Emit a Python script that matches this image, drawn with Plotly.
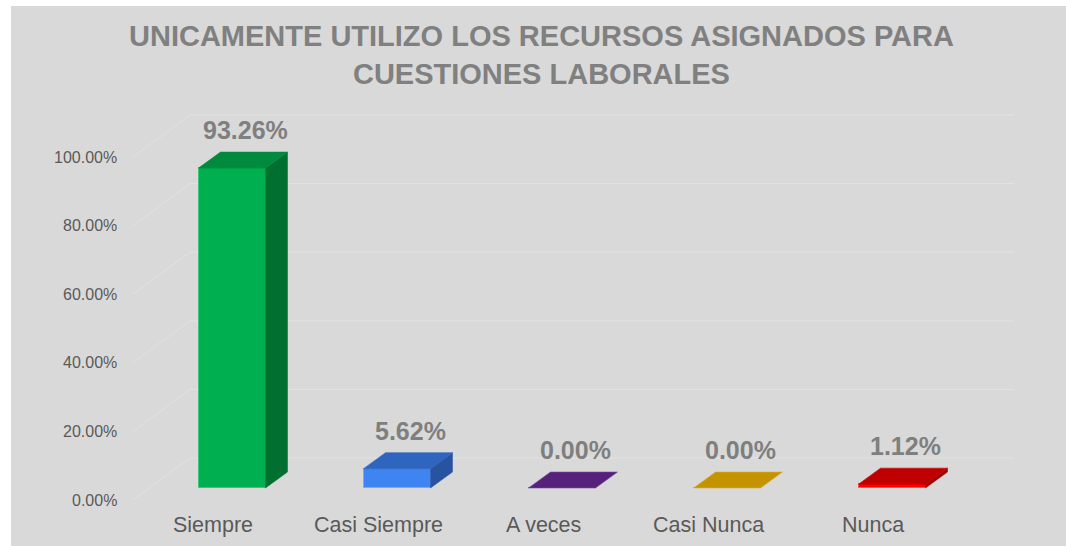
import plotly.graph_objects as go

# ---------------- data ----------------
categories = ["Siempre", "Casi Siempre", "A veces", "Casi Nunca", "Nunca"]
values = [93.26, 5.62, 0.00, 0.00, 1.12]
value_labels = ["93.26%", "5.62%", "0.00%", "0.00%", "1.12%"]
tick_values = [0, 20, 40, 60, 80, 100]
tick_labels = ["0.00%", "20.00%", "40.00%", "60.00%", "80.00%", "100.00%"]
title_text = "UNICAMENTE UTILIZO LOS RECURSOS ASIGNADOS PARA<br>CUESTIONES LABORALES"

# ---------------- style ----------------
front_colors = ["#00b050", "#3f85f2", "#55217a", "#c49400", "#ff0000"]
top_colors = ["#008a3e", "#2e65bf", "#55217a", "#c49400", "#c00000"]
side_colors = ["#006f2f", "#2753a1", "#461b66", "#a37b00", "#a00000"]
edge_colors = ["#3cc777", "#79a9f5", "#7a4aa0", "#dbb040", "#ff5050"]

W, H = 1066, 546
ML, MT = 11, 6
PX_X = 165.0          # pixels per category
PX_Y = 3.43           # pixels per percent
X0_PX = 232.0         # pixel of first category front centre
Y0_PX = 488.0         # pixel of 0% at bar front
BAR_W = 67 / PX_X
DX = 22 / PX_X        # depth offset (x)
DY = 16 / PX_Y        # depth offset (y)
WALL_DY = 30 / PX_Y   # back wall offset
WALL_X0 = (190 - X0_PX) / PX_X
WALL_X1 = (1014 - X0_PX) / PX_X
AXIS_X = (133 - X0_PX) / PX_X
AXIS_DY = -12 / PX_Y
TICK_X = (119 - X0_PX) / PX_X
CAT_DX = -19 / PX_X
CAT_Y = (Y0_PX - 525) / PX_Y
BG = "#d9d9d9"
GRID = "#e2e2e2"

xr = [(ML - X0_PX) / PX_X, (W - X0_PX) / PX_X]
yr = [(Y0_PX - H) / PX_Y, (Y0_PX - MT) / PX_Y]

idx = list(range(len(categories)))

fig = go.Figure()

# front faces
fig.add_trace(go.Bar(
    x=idx, y=values, width=BAR_W,
    marker=dict(color=front_colors, line=dict(color=edge_colors, width=1)),
    hoverinfo="skip", showlegend=False,
))

# top and side faces
for i, v in enumerate(values):
    xl, xr_ = i - BAR_W / 2, i + BAR_W / 2
    if v > 0:
        fig.add_trace(go.Scatter(
            x=[xr_, xr_, xr_ + DX, xr_ + DX, xr_],
            y=[0, v, v + DY, DY, 0],
            fill="toself", fillcolor=side_colors[i], mode="lines",
            line=dict(color=side_colors[i], width=0.5),
            hoverinfo="skip", showlegend=False,
        ))
    fig.add_trace(go.Scatter(
        x=[xl, xr_, xr_ + DX, xl + DX, xl],
        y=[v, v, v + DY, v + DY, v],
        fill="toself", fillcolor=top_colors[i], mode="lines",
        line=dict(color=edge_colors[i] if v == 0 else top_colors[i], width=0.6),
        hoverinfo="skip", showlegend=False,
    ))

# gridlines (walls)
shapes = []
for t in tick_values:
    shapes.append(dict(type="line", xref="x", yref="y", layer="below",
                       x0=WALL_X0, x1=WALL_X1, y0=t + WALL_DY, y1=t + WALL_DY,
                       line=dict(color=GRID, width=1)))
    shapes.append(dict(type="line", xref="x", yref="y", layer="below",
                       x0=AXIS_X, x1=WALL_X0, y0=t + AXIS_DY, y1=t + WALL_DY,
                       line=dict(color=GRID, width=1)))

annotations = []
# tick labels
for t, lab in zip(tick_values, tick_labels):
    annotations.append(dict(x=TICK_X, y=t + AXIS_DY, xref="x", yref="y", text=lab,
                            showarrow=False, xanchor="right", yanchor="middle",
                            font=dict(family="Liberation Sans, Arial", size=16, color="#595959")))
# category labels
for i, c in enumerate(categories):
    annotations.append(dict(x=i + CAT_DX, y=CAT_Y, xref="x", yref="y", text=c,
                            showarrow=False, xanchor="center", yanchor="middle",
                            font=dict(family="Liberation Sans, Arial", size=21.5, color="#595959")))
# value labels
for i, (v, lab) in enumerate(zip(values, value_labels)):
    annotations.append(dict(x=i + 0.08, y=v + DY, xref="x", yref="y", text="<b>" + lab + "</b>",
                            showarrow=False, xanchor="center", yanchor="middle", yshift=22,
                            font=dict(family="Liberation Sans, Arial", size=25, color="#7f7f7f")))
# title
annotations.append(dict(x=(541 - ML) / (W - ML), y=1 - (55 - MT) / (H - MT), xref="paper", yref="paper",
                        text="<b>" + title_text + "</b>", showarrow=False,
                        xanchor="center", yanchor="middle",
                        font=dict(family="Liberation Sans, Arial", size=29, color="#808080")))

fig.update_layout(
    width=W, height=H,
    margin=dict(l=ML, r=0, t=MT, b=0, pad=0),
    paper_bgcolor="white", plot_bgcolor=BG,
    xaxis=dict(range=xr, visible=False, fixedrange=True),
    yaxis=dict(range=yr, visible=False, fixedrange=True),
    shapes=shapes, annotations=annotations,
    showlegend=False, bargap=0,
)

fig.write_html("out.html", config={"displayModeBar": False},
               post_script="document.body.style.margin='0';document.body.style.overflow='hidden';")
